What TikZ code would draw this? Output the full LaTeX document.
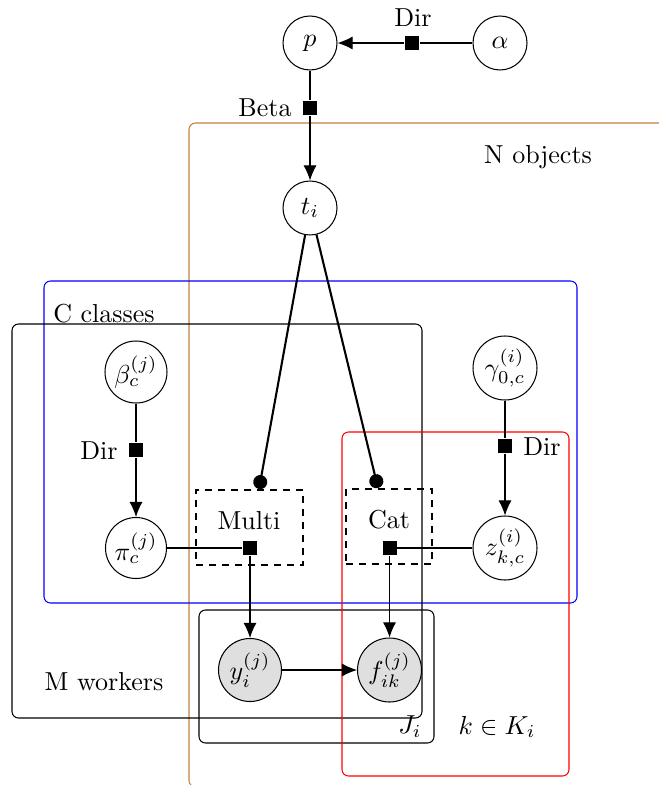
\documentclass[tikz,border=0pt]{standalone}
\usetikzlibrary{arrows.meta}
\tikzset{
  latentnode/.style={circle,draw,inner sep=0pt,minimum size=#1*0.3846pt},
  obsnode/.style={latentnode=#1,fill=gray!25},
  factornode/.style={rectangle,fill=black,inner sep=0pt,minimum size=14*0.3846pt},
  gatebox/.style={draw,dash pattern=on 2.8pt off 2.2pt,inner sep=0pt},
  edgearrow/.style={-{Latex[length=5.8pt,width=5pt]}},
  gateedge/.style={thick,-{Circle[length=5.4pt]}},
  plate/.style={draw,rounded corners=2.5pt},
  lbl/.style={inner sep=0pt}
}
\begin{document}
\begin{tikzpicture}[x=0.3846pt,y=-0.3846pt]
\useasboundingbox (0,0) rectangle (659,785);
\clip (0,0) rectangle (659,785);
% plates
\draw[plate,draw=brown] (189,123) rectangle (700,787);
\draw[plate,draw=blue] (44,281) rectangle (577,603);
\draw[plate] (12,324) rectangle (422,718);
\draw[plate] (199,610) rectangle (434,743);
\draw[plate,draw=red] (342,432) rectangle (569,776);
% variable nodes
\node[latentnode=54] (p) at (310,43) {$p$};
\node[latentnode=54] (alpha) at (500,43) {$\alpha$};
\node[latentnode=54] (t) at (310,208) {$t_i$};
\node[latentnode=62] (beta) at (136,372) {$\beta_c^{(j)}$};
\node[latentnode=61] (pi) at (136,548) {$\pi_c^{(j)}$};
\node[latentnode=64] (gamma) at (505,368) {$\gamma_{0,c}^{(i)}$};
\node[latentnode=64] (z) at (505,548) {$z_{k,c}^{(i)}$};
\node[obsnode=63] (y) at (250,670) {$y_i^{(j)}$};
\node[obsnode=64] (f) at (389.5,670) {$f_{ik}^{(j)}$};
% gate boxes
\node[gatebox,minimum width=107*0.3846pt,minimum height=75*0.3846pt] (gmulti) at (249.5,527.5) {};
\node[gatebox,minimum width=86*0.3846pt,minimum height=75*0.3846pt] (gcat) at (389,526.5) {};
\node[lbl] (tmulti) at (249,521) {Multi};
\node[lbl] (tcat) at (389,520) {Cat};
% factors
\node[factornode] (fdira) at (412,43) {};
\node[factornode] (fbeta) at (310,108) {};
\node[factornode] (fdirb) at (136,450) {};
\node[factornode] (fdirg) at (505,446) {};
\node[factornode] (fmulti) at (250,548) {};
\node[factornode] (fcat) at (389.5,548) {};
% labels
\node[lbl] (ldira) at (413,18) {Dir};
\node[lbl] (lbeta) at (265,108) {Beta};
\node[lbl] (ldirb) at (99,451) {Dir};
\node[lbl] (ldirg) at (542,447) {Dir};
\node[lbl] (lnobj) at (538,157) {N objects};
\node[lbl] (lcls) at (104,314) {C classes};
\node[lbl] (lwork) at (104,682) {M workers};
\node[lbl] (lji) at (410,727) {$J_i$};
\node[lbl] (lki) at (497,727) {$k \in K_i$};
% gate dot ends
\coordinate (mdot) at (259,489);
\coordinate (cdot) at (378,488);
% edges
\draw[edgearrow] (alpha) -- (fdira) -- (p);
\draw[edgearrow] (p) -- (fbeta) -- (t);
\draw[edgearrow] (beta) -- (fdirb) -- (pi);
\draw[edgearrow] (gamma) -- (fdirg) -- (z);
\draw (pi) -- (fmulti);
\draw[edgearrow] (fmulti) -- (y);
\draw (z) -- (fcat);
\draw[edgearrow] (fcat) -- (f);
\draw[edgearrow] (y) -- (f);
\draw[gateedge] (t) -- (mdot);
\draw[gateedge] (t) -- (cdot);
\end{tikzpicture}
\end{document}
